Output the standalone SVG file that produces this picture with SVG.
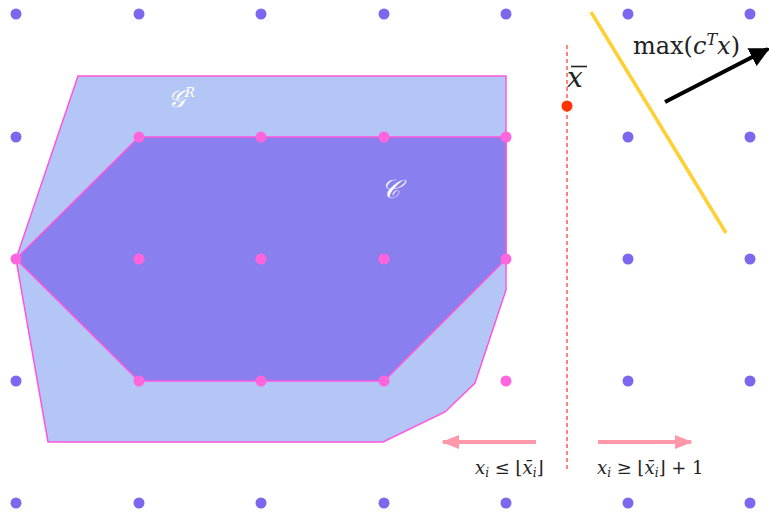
<svg xmlns="http://www.w3.org/2000/svg" width="769" height="512" viewBox="0 0 769 512">
<defs>
<style>
.pd{fill:#7b68ee}
.kd{fill:#ff66dd}
.m{font-family:"DejaVu Serif","Liberation Serif",serif;fill:#222}
.i{font-style:italic}
.w{font-family:"DejaVu Serif","Liberation Serif",serif;fill:#fff;font-style:italic}
</style>
<marker id="ab" viewBox="0 0 10 10" refX="9" refY="5" markerWidth="5" markerHeight="5" orient="auto"><path d="M0,0 L10,5 L0,10 z" fill="#000"/></marker>
<marker id="ap" viewBox="0 0 10 10" refX="9" refY="5" markerWidth="4.5" markerHeight="4.5" orient="auto"><path d="M0,1 L10,5 L0,9 z" fill="#ff99aa"/></marker>
</defs>
<rect width="769" height="512" fill="#fff"/>
<g id="GR">
<polygon points="78,76 506,76 506,290 475,383 445,412 383,442 48,442 16,259" fill="#b3c6f6" stroke="#ff55dd" stroke-width="1.5"/>
<text class="w" x="168" y="107" font-size="24">𝒢<tspan font-size="13" dy="-10">R</tspan></text>
</g>
<g id="C">
<polygon points="139,137 506,137 506,259 384,381 139,381 16,259" fill="#8a7fee" stroke="#ff55dd" stroke-width="1.5"/>
<text class="w" x="381" y="198" font-size="26">𝒞</text>
</g>
<g id="points">
<circle class="pd" cx="16" cy="14" r="5.5"/><circle class="pd" cx="139" cy="14" r="5.5"/><circle class="pd" cx="261" cy="14" r="5.5"/><circle class="pd" cx="384" cy="14" r="5.5"/><circle class="pd" cx="506" cy="14" r="5.5"/><circle class="pd" cx="628" cy="14" r="5.5"/><circle class="pd" cx="750" cy="14" r="5.5"/>
<circle class="pd" cx="16" cy="137" r="5.5"/><circle class="pd" cx="628" cy="137" r="5.5"/><circle class="pd" cx="750" cy="137" r="5.5"/>
<circle class="pd" cx="628" cy="259" r="5.5"/><circle class="pd" cx="750" cy="259" r="5.5"/>
<circle class="pd" cx="16" cy="381" r="5.5"/><circle class="pd" cx="628" cy="381" r="5.5"/><circle class="pd" cx="750" cy="381" r="5.5"/>
<circle class="pd" cx="16" cy="503" r="5.5"/><circle class="pd" cx="139" cy="503" r="5.5"/><circle class="pd" cx="261" cy="503" r="5.5"/><circle class="pd" cx="384" cy="503" r="5.5"/><circle class="pd" cx="506" cy="503" r="5.5"/><circle class="pd" cx="628" cy="503" r="5.5"/><circle class="pd" cx="750" cy="503" r="5.5"/>
<circle class="kd" cx="139" cy="137" r="5.5"/><circle class="kd" cx="261" cy="137" r="5.5"/><circle class="kd" cx="384" cy="137" r="5.5"/><circle class="kd" cx="506" cy="137" r="5.5"/>
<circle class="kd" cx="16" cy="259" r="5.5"/><circle class="kd" cx="139" cy="259" r="5.5"/><circle class="kd" cx="261" cy="259" r="5.5"/><circle class="kd" cx="384" cy="259" r="5.5"/><circle class="kd" cx="506" cy="259" r="5.5"/>
<circle class="kd" cx="139" cy="381" r="5.5"/><circle class="kd" cx="261" cy="381" r="5.5"/><circle class="kd" cx="384" cy="381" r="5.5"/><circle class="kd" cx="506" cy="381" r="5.5"/>
</g>
<g id="xbar">
<line x1="567" y1="45" x2="567" y2="472" stroke="#ff3322" stroke-width="1.2" stroke-dasharray="4,3"/>
<circle cx="567" cy="106" r="5.5" fill="#ff3300"/>
<text class="m i" x="567" y="87" font-size="28">x</text>
<line x1="571" y1="66.5" x2="587" y2="66.5" stroke="#222" stroke-width="1.6"/>
</g>
<g id="objective">
<line x1="591" y1="12" x2="726" y2="233" stroke="#ffd033" stroke-width="3.5"/>
<text class="m" x="633" y="54" font-size="24">max(<tspan class="i">c</tspan><tspan class="i" font-size="16" dy="-9">T</tspan><tspan class="i" dy="9">x</tspan>)</text>
</g>
<g id="connectors">
<line x1="665" y1="102" x2="768" y2="49" stroke="#000" stroke-width="4" marker-end="url(#ab)"/>
<line x1="536" y1="442" x2="443" y2="442" stroke="#ff99aa" stroke-width="4" marker-end="url(#ap)"/>
<line x1="598" y1="442" x2="691" y2="442" stroke="#ff99aa" stroke-width="4" marker-end="url(#ap)"/>
</g>
<g id="labels">
<text class="m" x="475" y="474" font-size="18"><tspan class="i">x</tspan><tspan class="i" font-size="12" dy="3">i</tspan><tspan dy="-3"> ≤ ⌊</tspan><tspan class="i">x̄</tspan><tspan class="i" font-size="12" dy="3">i</tspan><tspan dy="-3">⌋</tspan></text>
<text class="m" x="597" y="474" font-size="18"><tspan class="i">x</tspan><tspan class="i" font-size="12" dy="3">i</tspan><tspan dy="-3"> ≥ ⌊</tspan><tspan class="i">x̄</tspan><tspan class="i" font-size="12" dy="3">i</tspan><tspan dy="-3">⌋ + 1</tspan></text>
</g>
</svg>
